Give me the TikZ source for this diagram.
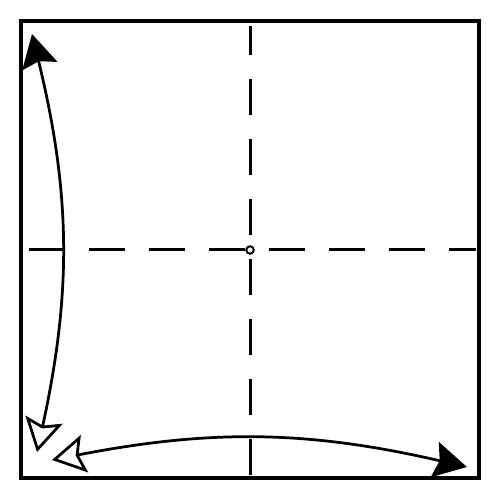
\documentclass[tikz,border=0pt]{standalone}
\usetikzlibrary{arrows.meta}
\tikzset{
border/.style = {draw, line width=0.065cm},
valley/.style = {draw, line width=0.06cm, dash pattern=on 0.72cm off 0.48cm},
pivot/.style = {draw, circle, fill=white, line width=0.04cm, inner sep=0pt, minimum size=0.15cm},
swing/.style = {line width=0.055cm, {Stealth[open, length=0.66cm, width=0.76cm, inset=0.12cm]}-{Stealth[length=0.66cm, width=0.72cm, inset=0.1cm]}}
}
\begin{document}
\begin{tikzpicture}[x=0.02cm, y=0.02cm]
	\useasboundingbox (0,0) rectangle (500,500);
	\draw[border] (21,22) rectangle (479,479);

	\coordinate (vbot) at (250,25);
	\coordinate (vtop) at (250,474);
	\coordinate (hleft) at (29,250);
	\coordinate (hright) at (476,250);
	\draw[valley] (vbot) -- (vtop);
	\draw[valley] (hleft) -- (hright);
	\node[pivot] (centre) at (250,250) {};

	\coordinate (leftlow) at (37,48);
	\coordinate (lefthigh) at (32,466);
	\coordinate (baseleft) at (52,40);
	\coordinate (baseright) at (467,33);
	\draw[swing] (leftlow) to[bend right=13] (lefthigh);
	\draw[swing] (baseleft) to[bend left=12] (baseright);
\end{tikzpicture}
\end{document}
